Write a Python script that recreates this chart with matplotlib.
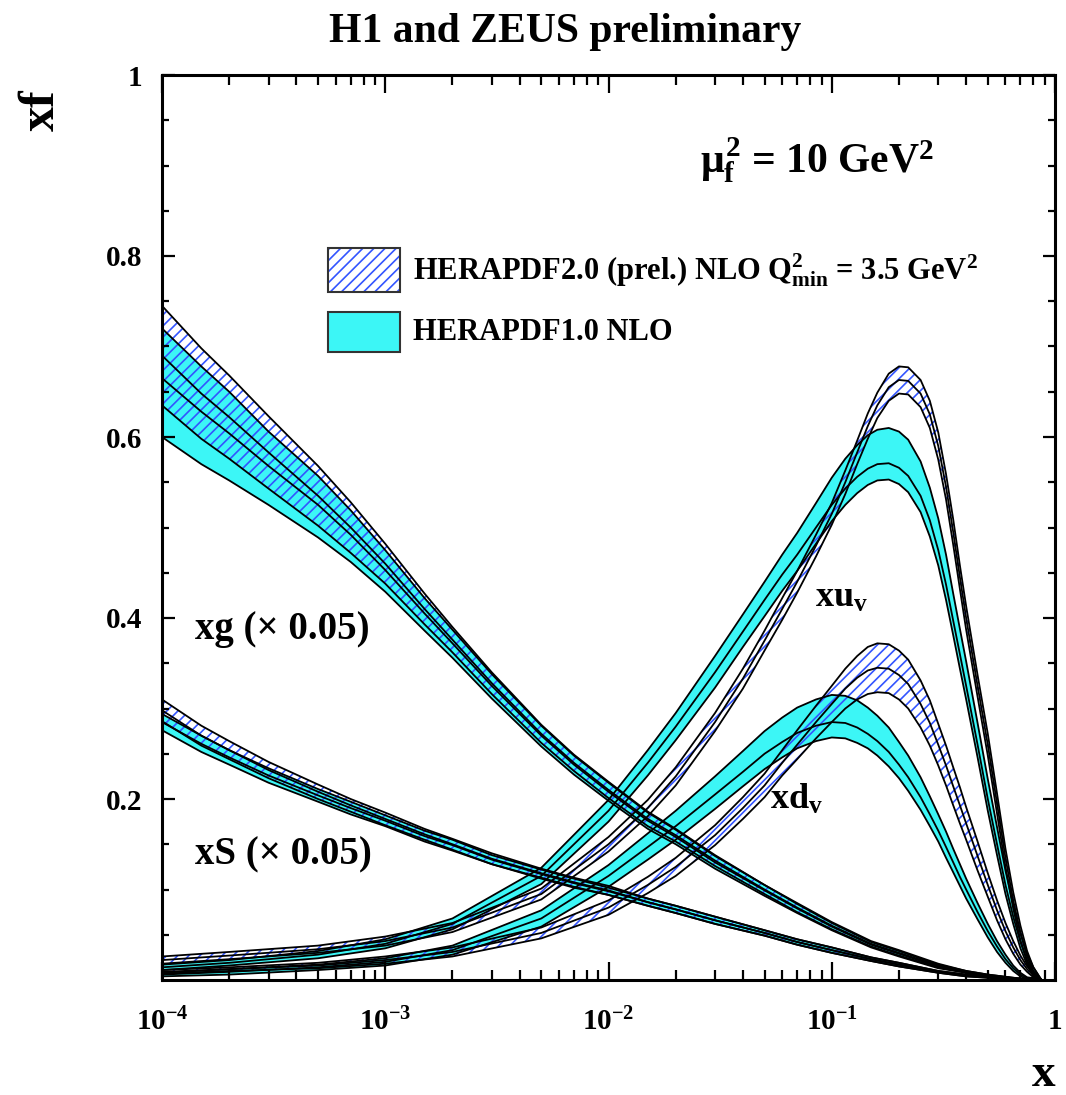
import numpy as np
import matplotlib
matplotlib.use("Agg")
import matplotlib.pyplot as plt
from matplotlib.patches import Rectangle
from matplotlib.ticker import FixedLocator, FixedFormatter, NullFormatter

# x grids
x_sea = [1e-4, 1.5e-4, 2e-4, 3e-4, 5e-4, 7e-4, 1e-3, 1.5e-3, 2e-3, 3e-3, 5e-3, 7e-3, 1e-2,
         1.5e-2, 2e-2, 3e-2, 5e-2, 7e-2, 0.1, 0.15, 0.2, 0.3, 0.4, 0.5, 0.65, 0.8]
x_val = [1e-4, 2e-4, 5e-4, 1e-3, 2e-3, 5e-3, 1e-2, 1.5e-2, 2e-2, 3e-2, 4e-2, 5e-2, 6e-2,
         7e-2, 8.5e-2, 0.1, 0.115, 0.13, 0.145, 0.16, 0.18, 0.2, 0.22, 0.25, 0.275, 0.3,
         0.325, 0.35, 0.375, 0.4, 0.45, 0.5, 0.55, 0.6, 0.65, 0.7, 0.75, 0.8, 0.87]

# xg (x 0.05): HERAPDF2.0 (v2) and HERAPDF1.0 (v1), central value and errors
xg_v2 = [0.69, 0.648, 0.622, 0.583, 0.535, 0.5, 0.46, 0.41, 0.376, 0.328, 0.272, 0.24, 0.21,
         0.178, 0.16, 0.132, 0.1, 0.08, 0.06, 0.04, 0.03, 0.016, 0.009, 0.005, 0.002, 0.0]
xg_v2_up = [0.055, 0.05, 0.046, 0.04, 0.033, 0.028, 0.022, 0.017, 0.014, 0.012, 0.01, 0.009, 0.009,
            0.008, 0.007, 0.006, 0.005, 0.005, 0.004, 0.003, 0.003, 0.002, 0.001, 0.001, 0.0005, 0.0]
xg_v2_dn = xg_v2_up
xg_v1 = [0.665, 0.628, 0.604, 0.568, 0.525, 0.492, 0.453, 0.405, 0.372, 0.325, 0.27, 0.238, 0.208,
         0.176, 0.158, 0.13, 0.099, 0.079, 0.059, 0.039, 0.029, 0.015, 0.009, 0.005, 0.002, 0.0]
xg_v1_up = [0.055, 0.05, 0.046, 0.038, 0.032, 0.027, 0.022, 0.017, 0.015, 0.013, 0.011, 0.01, 0.01,
            0.009, 0.008, 0.007, 0.006, 0.005, 0.004, 0.003, 0.003, 0.002, 0.001, 0.001, 0.0005, 0.0]
xg_v1_dn = [0.065, 0.058, 0.052, 0.043, 0.036, 0.03, 0.024, 0.019, 0.016, 0.014, 0.012, 0.011, 0.01,
            0.009, 0.008, 0.007, 0.006, 0.005, 0.004, 0.003, 0.003, 0.002, 0.001, 0.001, 0.0005, 0.0]

# xS (x 0.05)
xs_v2 = [0.298, 0.27, 0.254, 0.232, 0.208, 0.193, 0.178, 0.161, 0.15, 0.134, 0.118, 0.108, 0.099,
         0.086, 0.078, 0.066, 0.052, 0.042, 0.033, 0.023, 0.017, 0.009, 0.005, 0.003, 0.001, 0.0]
xs_v2_up = [0.012, 0.011, 0.01, 0.009, 0.008, 0.007, 0.007, 0.006, 0.006, 0.006, 0.005, 0.005, 0.005,
            0.004, 0.004, 0.004, 0.003, 0.003, 0.003, 0.002, 0.002, 0.001, 0.001, 0.0005, 0.0003, 0.0]
xs_v2_dn = xs_v2_up
xs_v1 = [0.285, 0.261, 0.246, 0.226, 0.204, 0.19, 0.176, 0.159, 0.149, 0.133, 0.117, 0.107, 0.098,
         0.086, 0.078, 0.066, 0.052, 0.042, 0.033, 0.023, 0.017, 0.009, 0.005, 0.003, 0.001, 0.0]
xs_v1_up = [0.009, 0.009, 0.008, 0.008, 0.007, 0.007, 0.006, 0.006, 0.006, 0.005, 0.005, 0.005, 0.004,
            0.004, 0.004, 0.004, 0.003, 0.003, 0.003, 0.002, 0.002, 0.001, 0.001, 0.0005, 0.0003, 0.0]
xs_v1_dn = xs_v1_up

# xu_v
xu_v2 = [0.022, 0.027, 0.034, 0.043, 0.058, 0.095, 0.15, 0.19, 0.225, 0.285, 0.333, 0.375, 0.41,
         0.44, 0.48, 0.515, 0.55, 0.583, 0.612, 0.635, 0.655, 0.663, 0.662, 0.648, 0.625, 0.59,
         0.545, 0.495, 0.445, 0.4, 0.325, 0.26, 0.195, 0.135, 0.088, 0.052, 0.026, 0.01, 0.0]
xu_v2_up = [0.004, 0.004, 0.004, 0.005, 0.005, 0.006, 0.008, 0.009, 0.01, 0.01, 0.011, 0.011, 0.012,
            0.012, 0.012, 0.012, 0.013, 0.013, 0.014, 0.014, 0.015, 0.015, 0.015, 0.015, 0.015, 0.015,
            0.014, 0.014, 0.013, 0.013, 0.012, 0.012, 0.011, 0.01, 0.009, 0.008, 0.006, 0.004, 0.0]
xu_v2_dn = xu_v2_up
xu_v1 = [0.014, 0.019, 0.028, 0.04, 0.062, 0.115, 0.187, 0.24, 0.28, 0.34, 0.385, 0.42, 0.448,
         0.47, 0.5, 0.525, 0.543, 0.556, 0.565, 0.57, 0.571, 0.566, 0.557, 0.535, 0.508, 0.475,
         0.437, 0.397, 0.36, 0.325, 0.26, 0.2, 0.15, 0.105, 0.07, 0.042, 0.022, 0.009, 0.0]
xu_v1_up = [0.003, 0.003, 0.004, 0.005, 0.006, 0.009, 0.012, 0.014, 0.015, 0.018, 0.019, 0.02, 0.022,
            0.024, 0.027, 0.03, 0.033, 0.035, 0.037, 0.038, 0.039, 0.04, 0.04, 0.038, 0.036, 0.035,
            0.033, 0.03, 0.028, 0.027, 0.024, 0.022, 0.019, 0.016, 0.013, 0.01, 0.007, 0.005, 0.0]
xu_v1_dn = [0.003, 0.003, 0.004, 0.005, 0.006, 0.009, 0.012, 0.014, 0.015, 0.017, 0.017, 0.018, 0.018,
            0.018, 0.018, 0.018, 0.018, 0.018, 0.018, 0.018, 0.018, 0.018, 0.018, 0.018, 0.018, 0.017,
            0.017, 0.016, 0.016, 0.015, 0.014, 0.013, 0.012, 0.01, 0.008, 0.007, 0.005, 0.004, 0.0]

# xd_v
xd_v2 = [0.009, 0.012, 0.016, 0.022, 0.031, 0.052, 0.08, 0.105, 0.125, 0.16, 0.19, 0.215, 0.24,
         0.26, 0.285, 0.305, 0.322, 0.334, 0.342, 0.345, 0.344, 0.337, 0.327, 0.305, 0.284, 0.26,
         0.237, 0.214, 0.193, 0.173, 0.137, 0.105, 0.077, 0.054, 0.036, 0.022, 0.012, 0.005, 0.0]
xd_v2_up = [0.002, 0.002, 0.003, 0.004, 0.005, 0.006, 0.008, 0.009, 0.01, 0.011, 0.012, 0.013, 0.014,
            0.016, 0.018, 0.02, 0.022, 0.024, 0.026, 0.027, 0.027, 0.027, 0.027, 0.026, 0.025, 0.023,
            0.022, 0.021, 0.02, 0.018, 0.016, 0.013, 0.011, 0.009, 0.007, 0.005, 0.003, 0.002, 0.0]
xd_v2_dn = xd_v2_up
xd_v1 = [0.006, 0.009, 0.014, 0.02, 0.033, 0.068, 0.115, 0.147, 0.17, 0.205, 0.23, 0.25, 0.263,
         0.273, 0.281, 0.285, 0.284, 0.279, 0.272, 0.264, 0.252, 0.238, 0.224, 0.202, 0.183, 0.165,
         0.147, 0.13, 0.114, 0.1, 0.075, 0.054, 0.037, 0.023, 0.013, 0.006, 0.002, 0.001, 0.0]
xd_v1_up = [0.002, 0.003, 0.003, 0.004, 0.005, 0.009, 0.012, 0.015, 0.017, 0.02, 0.023, 0.025, 0.027,
            0.028, 0.029, 0.03, 0.03, 0.03, 0.029, 0.028, 0.027, 0.025, 0.024, 0.022, 0.02, 0.018,
            0.017, 0.015, 0.014, 0.012, 0.01, 0.008, 0.006, 0.005, 0.003, 0.002, 0.001, 0.001, 0.0]
xd_v1_dn = [0.002, 0.003, 0.003, 0.004, 0.005, 0.009, 0.012, 0.014, 0.015, 0.016, 0.016, 0.017, 0.017,
            0.017, 0.017, 0.017, 0.017, 0.017, 0.016, 0.016, 0.016, 0.015, 0.015, 0.014, 0.013, 0.012,
            0.012, 0.011, 0.01, 0.01, 0.008, 0.007, 0.006, 0.004, 0.003, 0.002, 0.001, 0.001, 0.0]

x_major = [1e-4, 1e-3, 1e-2, 1e-1, 1.0]
x_major_labels = [r"$10^{-4}$", r"$10^{-3}$", r"$10^{-2}$", r"$10^{-1}$", "1"]
y_major = [0.2, 0.4, 0.6, 0.8, 1.0]
y_major_labels = ["0.2", "0.4", "0.6", "0.8", "1"]

CYAN = "#3cf6f6"
HATCH = "#3355ff"

plt.rcParams["font.family"] = ["Liberation Serif", "DejaVu Serif"]
plt.rcParams["font.weight"] = "bold"
plt.rcParams["mathtext.fontset"] = "custom"
plt.rcParams["mathtext.rm"] = "Liberation Serif:bold"
plt.rcParams["mathtext.bf"] = "Liberation Serif:bold"
plt.rcParams["mathtext.it"] = "Liberation Serif:bold"
plt.rcParams["hatch.linewidth"] = 1.2

W, H = 1066, 1095
fig = plt.figure(figsize=(W / 100, H / 100), dpi=100)
ax = fig.add_axes([162 / W, 1 - 980 / H, 893 / W, 905 / H])

cyan_sets = [(x_sea, xg_v1, xg_v1_up, xg_v1_dn), (x_sea, xs_v1, xs_v1_up, xs_v1_dn),
             (x_val, xu_v1, xu_v1_up, xu_v1_dn), (x_val, xd_v1, xd_v1_up, xd_v1_dn)]
hatch_sets = [(x_sea, xg_v2, xg_v2_up, xg_v2_dn), (x_sea, xs_v2, xs_v2_up, xs_v2_dn),
              (x_val, xu_v2, xu_v2_up, xu_v2_dn), (x_val, xd_v2, xd_v2_up, xd_v2_dn)]

for xx, mid, up, dn in cyan_sets:
    mid = np.array(mid)
    ax.fill_between(xx, mid - np.array(dn), mid + np.array(up), facecolor=CYAN, linewidth=0)
for xx, mid, up, dn in hatch_sets:
    mid = np.array(mid)
    ax.fill_between(xx, mid - np.array(dn), mid + np.array(up), facecolor="none",
                    edgecolor=HATCH, hatch="///", linewidth=0)
for xx, mid, up, dn in cyan_sets + hatch_sets:
    mid = np.array(mid)
    for yy in (mid - np.array(dn), mid, mid + np.array(up)):
        ax.plot(xx, yy, color="black", lw=1.3)

ax.set_xscale("log")
ax.set_xlim(1e-4, 1)
ax.set_ylim(0, 1)
ax.xaxis.set_major_locator(FixedLocator(x_major))
ax.xaxis.set_major_formatter(FixedFormatter(x_major_labels))
ax.xaxis.set_minor_locator(FixedLocator([m * d for d in x_major[:-1] for m in range(2, 10)]))
ax.xaxis.set_minor_formatter(NullFormatter())
ax.yaxis.set_major_locator(FixedLocator(y_major))
ax.yaxis.set_major_formatter(FixedFormatter(y_major_labels))
ax.yaxis.set_minor_locator(FixedLocator([0.05 * i for i in range(1, 20)]))
ax.tick_params(which="both", direction="in", top=True, right=True, width=1.6,
               labelsize=21)
ax.tick_params(axis="x", which="major", length=13, pad=20)
ax.tick_params(axis="x", which="minor", length=7)
ax.tick_params(axis="y", which="major", length=9, pad=14)
ax.tick_params(axis="y", which="minor", length=5)
for s in ax.spines.values():
    s.set_linewidth(2.2)


def ftxt(xp, yp, s, **kw):
    fig.text(xp / W, 1 - yp / H, s, **kw)


ftxt(565, 32, "H1 and ZEUS preliminary", ha="center", va="center", fontsize=30)
ftxt(42, 110, "xf", rotation=90, ha="center", va="center", fontsize=36)
ftxt(1044, 1086, "x", ha="center", va="baseline", fontsize=34)
ftxt(700, 160, r"$\mu_f^2$ = 10 GeV$^2$", ha="left", va="center", fontsize=30)

# legend
bx, bw = (328 - 162) / 893, 72 / 893
ax.add_patch(Rectangle((bx, (980 - 292) / 905), bw, 44 / 905, transform=ax.transAxes,
                       facecolor="white", edgecolor=HATCH, hatch="///", linewidth=0))
ax.add_patch(Rectangle((bx, (980 - 292) / 905), bw, 44 / 905, transform=ax.transAxes,
                       facecolor="none", edgecolor="#333333", lw=1.5))
ax.add_patch(Rectangle((bx, (980 - 352) / 905), bw, 40 / 905, transform=ax.transAxes,
                       facecolor=CYAN, edgecolor="#333333", lw=1.5))
ftxt(413, 270, r"HERAPDF2.0 (prel.) NLO Q$^2_{min}$ = 3.5 GeV$^2$", ha="left", va="center", fontsize=22)
ftxt(413, 333, "HERAPDF1.0 NLO", ha="left", va="center", fontsize=22)

ftxt(195, 630, "xg (\u00d7 0.05)", ha="left", va="center", fontsize=28)
ftxt(195, 855, "xS (\u00d7 0.05)", ha="left", va="center", fontsize=28)
ftxt(815, 598, r"xu$_v$", ha="left", va="center", fontsize=26)
ftxt(770, 800, r"xd$_v$", ha="left", va="center", fontsize=26)

fig.savefig("out.png", dpi=100)
